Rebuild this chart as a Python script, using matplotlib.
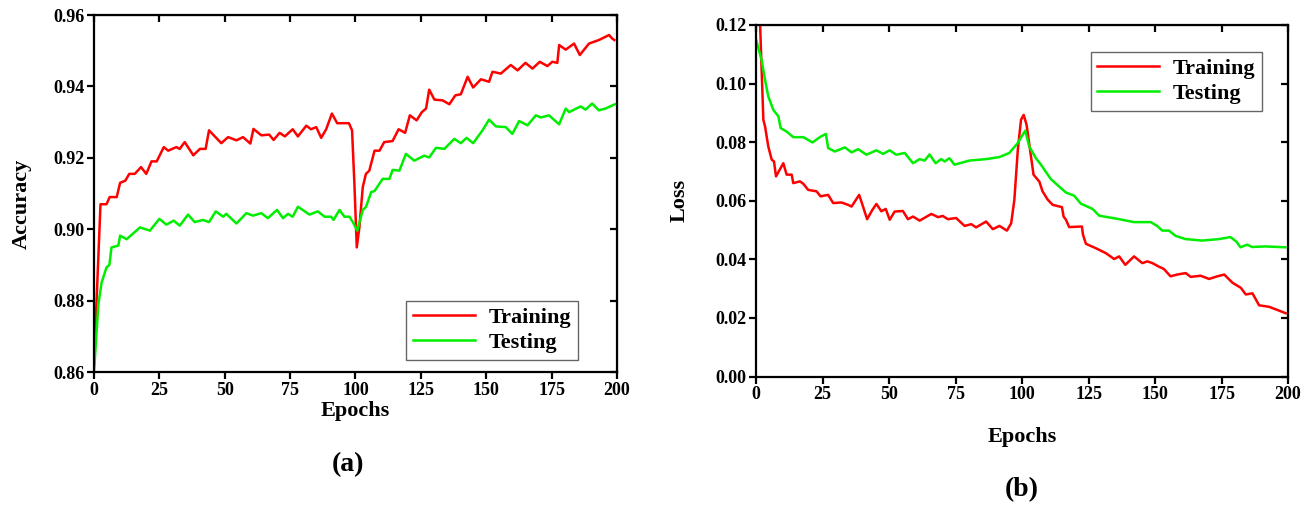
import matplotlib
matplotlib.use('Agg')
import matplotlib.pyplot as plt

plt.rcParams['font.family'] = ['Liberation Serif', 'DejaVu Serif']
plt.rcParams['font.weight'] = 'bold'

# (a) accuracy
acc_train_ep = [0, 2.5, 4.8, 6, 8.7, 10, 12, 13.5, 15.6, 18, 20, 22, 24, 26.7, 28.4, 31.5,
                32.8, 34.7, 38, 40.5, 42.7, 44, 48.7, 51.3, 54.5, 57, 59.8, 61, 64, 67, 68.7,
                71, 73, 76, 78, 81.2, 83, 85, 86.9, 88.8, 91, 93, 97.5, 98.7, 99.6, 100.5,
                101.5, 102.8, 104, 105.3, 107.3, 109.2, 111, 114.2, 116.5, 119, 120.8, 123.4,
                125.4, 127, 128.2, 130.2, 133.3, 135.9, 138.2, 140.3, 142.9, 145, 148, 151.1,
                152.4, 155.6, 159.4, 162, 165, 167.7, 170.5, 173.4, 175.3, 177.2, 177.9, 180.4,
                183.6, 185.8, 189.3, 193.1, 197, 198.2, 199]
acc_train = [0.862, 0.907, 0.907, 0.909, 0.909, 0.913, 0.9136, 0.9155, 0.9155, 0.9174, 0.9155,
             0.919, 0.919, 0.923, 0.922, 0.923, 0.9225, 0.9244, 0.9207, 0.9225, 0.9225, 0.9277,
             0.9241, 0.9258, 0.9249, 0.9258, 0.924, 0.9281, 0.9263, 0.9265, 0.925, 0.927, 0.926,
             0.928, 0.926, 0.929, 0.928, 0.9286, 0.9256, 0.928, 0.9324, 0.9297, 0.9297, 0.9277,
             0.9127, 0.8949, 0.9005, 0.9118, 0.9155, 0.9164, 0.922, 0.922, 0.9244, 0.9247, 0.928,
             0.927, 0.9319, 0.9305, 0.9328, 0.9338, 0.9391, 0.9363, 0.9361, 0.935, 0.9375, 0.9378,
             0.9427, 0.9397, 0.942, 0.9413, 0.9441, 0.9436, 0.946, 0.9445, 0.9466, 0.945, 0.9469,
             0.9457, 0.9469, 0.9466, 0.9516, 0.9503, 0.952, 0.9488, 0.952, 0.953, 0.9544, 0.9534,
             0.953]

acc_test_ep = [0, 1.7, 2.9, 4.8, 5.9, 6.7, 9.3, 10, 12.5, 17.6, 21.4, 25, 27.7, 30.5, 32.8, 36,
               38.5, 41.7, 44, 46.6, 49.4, 50.6, 54.5, 58.3, 60.8, 64, 66.5, 70, 72.3, 74.2, 76,
               78, 82.4, 85.6, 88.2, 90.7, 91.6, 93.9, 95.8, 97.7, 99, 100.7, 102.8, 104, 106,
               107.3, 110.4, 113, 114.2, 116.8, 119.3, 122.5, 126.3, 128.2, 130.8, 134, 137.8,
               140.3, 142.5, 145, 148.6, 151.1, 153.7, 157.5, 160, 162.6, 165.8, 169, 170.9, 174,
               177.9, 180.4, 181.7, 186.1, 188, 190.5, 193.1, 195.6, 199.2]
acc_test = [0.86, 0.879, 0.885, 0.8893, 0.890, 0.8949, 0.8954, 0.8982, 0.8972, 0.9005, 0.8996,
            0.9029, 0.9013, 0.9024, 0.901, 0.9041, 0.902, 0.9026, 0.902, 0.905, 0.9035, 0.9043,
            0.9016, 0.9045, 0.9038, 0.9045, 0.9031, 0.9054, 0.9031, 0.9043, 0.9035, 0.9063,
            0.9041, 0.905, 0.9035, 0.9035, 0.9026, 0.9054, 0.9035, 0.9035, 0.902, 0.8996, 0.9054,
            0.9062, 0.9104, 0.9107, 0.9141, 0.9141, 0.9166, 0.9164, 0.9211, 0.9192, 0.9206,
            0.9201, 0.9228, 0.9225, 0.9253, 0.9241, 0.9256, 0.9241, 0.9277, 0.9307, 0.9288,
            0.9286, 0.9267, 0.9303, 0.9291, 0.9319, 0.9313, 0.9319, 0.9294, 0.9338, 0.9328,
            0.9344, 0.9335, 0.9352, 0.9333, 0.9338, 0.935]

# (b) loss
loss_train_ep = [0, 1.5, 2.1, 2.75, 3.4, 4.6, 5.9, 6.75, 7.5, 10.25, 11.5, 13.4, 14, 16.5, 17.75,
                 19.6, 22.75, 24.25, 27.1, 29, 32.1, 34.6, 35.9, 38.75, 40, 41.75, 43.75, 45.25,
                 47.1, 48.75, 50.25, 52.1, 55.2, 57.1, 59, 61.5, 65.9, 68.4, 70.2, 72.1, 75.2,
                 78.4, 80.9, 82.7, 86.5, 89, 91.5, 94.3, 95.9, 97.1, 98.4, 99.6, 100.6, 101.7, 103,
                 104.3, 106.5, 107.7, 109.6, 111.5, 115, 115.6, 116.5, 117.7, 122.5, 122.9, 124,
                 127.7, 131.5, 134.6, 136.5, 138.8, 142.1, 145.2, 147.1, 149, 151.2, 153.3, 155.8,
                 158.3, 161.5, 163.4, 167.1, 170.3, 173.4, 176, 179.1, 182.2, 184.1, 186.6, 189.1,
                 192.8, 196, 199.1]
loss_train = [0.16, 0.121, 0.1047, 0.0876, 0.0853, 0.0785, 0.074, 0.0734, 0.0683, 0.0728, 0.0689,
              0.0689, 0.066, 0.0666, 0.0658, 0.0637, 0.0632, 0.0615, 0.062, 0.0592, 0.0594, 0.0586,
              0.058, 0.062, 0.0586, 0.0537, 0.0569, 0.0589, 0.0564, 0.0572, 0.0535, 0.0563, 0.0565,
              0.0537, 0.0546, 0.0532, 0.0555, 0.0544, 0.0548, 0.0537, 0.0541, 0.0514, 0.052, 0.0509,
              0.0529, 0.0503, 0.0514, 0.0498, 0.0523, 0.0603, 0.0774, 0.0876, 0.0893, 0.0859,
              0.0774, 0.0689, 0.0665, 0.0632, 0.0604, 0.0586, 0.0578, 0.0546, 0.0535, 0.051,
              0.0512, 0.0484, 0.0453, 0.0438, 0.0421, 0.0401, 0.041, 0.0381, 0.041, 0.0387, 0.0393,
              0.0387, 0.0376, 0.0367, 0.0342, 0.0348, 0.0353, 0.034, 0.0344, 0.0333, 0.0342, 0.0348,
              0.032, 0.0303, 0.028, 0.0284, 0.0243, 0.0238, 0.0227, 0.0216]

loss_test_ep = [0, 2.1, 3.4, 4.6, 6.5, 8.4, 9.25, 11.5, 14, 17.75, 21.25, 24, 26.25, 27.1, 29.6,
                33.4, 35.9, 38.4, 41.5, 45.25, 47.75, 50.25, 52.7, 55.9, 59, 61.5, 63.4, 65.2,
                67.5, 69.6, 70.9, 72.7, 74.6, 80.2, 86.5, 91.5, 95.2, 98.4, 100, 101.2, 102.7,
                105.2, 107.1, 110.8, 114.6, 116.5, 119.6, 122.1, 126.5, 129, 135.9, 142.1, 148.4,
                150.9, 152.7, 155.2, 157.7, 161.5, 167.7, 174, 178.3, 180.5, 182.1, 184.6, 186.5,
                191.5, 199]
loss_test = [0.115, 0.108, 0.1012, 0.0956, 0.091, 0.0888, 0.0848, 0.0836, 0.0817, 0.0817, 0.0799,
             0.0817, 0.0828, 0.078, 0.0768, 0.0782, 0.0765, 0.0776, 0.0757, 0.0772, 0.076, 0.0772,
             0.0757, 0.0763, 0.0728, 0.0742, 0.0737, 0.0758, 0.0728, 0.0742, 0.0734, 0.0745,
             0.0723, 0.0737, 0.0742, 0.0749, 0.0763, 0.0797, 0.0822, 0.0839, 0.0785, 0.0745,
             0.0723, 0.0674, 0.0643, 0.0628, 0.0617, 0.059, 0.0572, 0.0549, 0.0538, 0.0527,
             0.0527, 0.0513, 0.0498, 0.0498, 0.048, 0.0469, 0.0464, 0.0469, 0.0476, 0.0461,
             0.0441, 0.045, 0.0442, 0.0444, 0.0441]

x_ticks = [0, 25, 50, 75, 100, 125, 150, 175, 200]
acc_ticks = [0.86, 0.88, 0.90, 0.92, 0.94, 0.96]
loss_ticks = [0.00, 0.02, 0.04, 0.06, 0.08, 0.10, 0.12]

RED = '#ff0000'
GREEN = '#00ee00'

fig = plt.figure(figsize=(13.16, 5.11), dpi=100)
ax1 = fig.add_axes([0.0714, 0.272, 0.3974, 0.6986])
ax2 = fig.add_axes([0.5745, 0.2632, 0.4043, 0.688])


def style_axes(ax, yticks, ylabel):
    ax.set_xlim(0, 200)
    ax.set_ylim(yticks[0], yticks[-1])
    ax.set_xticks(x_ticks)
    ax.set_yticks(yticks)
    ax.set_yticklabels([f'{t:.2f}' for t in yticks])
    for sp in ax.spines.values():
        sp.set_linewidth(1.6)
    ax.tick_params(axis='both', which='both', labelsize=13, width=1.6, length=5,
                   direction='out', pad=2)
    sec_x = ax.secondary_xaxis('top')
    sec_x.set_xticks(x_ticks)
    sec_x.tick_params(direction='in', labeltop=False, width=1.6, length=5)
    sec_y = ax.secondary_yaxis('right')
    sec_y.set_yticks(yticks)
    sec_y.tick_params(direction='in', labelright=False, width=1.6, length=5)
    ax.set_xlabel('Epochs', fontsize=16, fontweight='bold')
    ax.set_ylabel(ylabel, fontsize=16, fontweight='bold')


ax1.plot(acc_train_ep, acc_train, color=RED, lw=1.8, label='Training', clip_on=True)
ax1.plot(acc_test_ep, acc_test, color=GREEN, lw=1.8, label='Testing', clip_on=True)
style_axes(ax1, acc_ticks, 'Accuracy')
ax1.xaxis.set_label_coords(0.5, -0.08)
ax1.yaxis.set_label_coords(-0.119, 0.47)
leg1 = ax1.legend(loc='lower right', bbox_to_anchor=(0.925, 0.034), borderaxespad=0,
                  fontsize=16, handlelength=2.8, fancybox=False, framealpha=1,
                  edgecolor='#666666', borderpad=0.3, labelspacing=0.2, handletextpad=0.6)
leg1.get_frame().set_linewidth(1.0)

ax2.plot(loss_train_ep, loss_train, color=RED, lw=1.8, label='Training', clip_on=True)
ax2.plot(loss_test_ep, loss_test, color=GREEN, lw=1.8, label='Testing', clip_on=True)
style_axes(ax2, loss_ticks, 'Loss')
ax2.xaxis.set_label_coords(0.5, -0.144)
ax2.yaxis.set_label_coords(-0.124, 0.5)
leg2 = ax2.legend(loc='upper right', bbox_to_anchor=(0.951, 0.923), borderaxespad=0,
                  fontsize=16, handlelength=2.8, fancybox=False, framealpha=1,
                  edgecolor='#666666', borderpad=0.3, labelspacing=0.2, handletextpad=0.6)
leg2.get_frame().set_linewidth(1.0)

fig.text(0.2645, 0.09, '(a)', fontsize=20, fontweight='bold', ha='center', va='center')
fig.text(0.7766, 0.041, '(b)', fontsize=20, fontweight='bold', ha='center', va='center')

fig.savefig('out.png', dpi=100)
